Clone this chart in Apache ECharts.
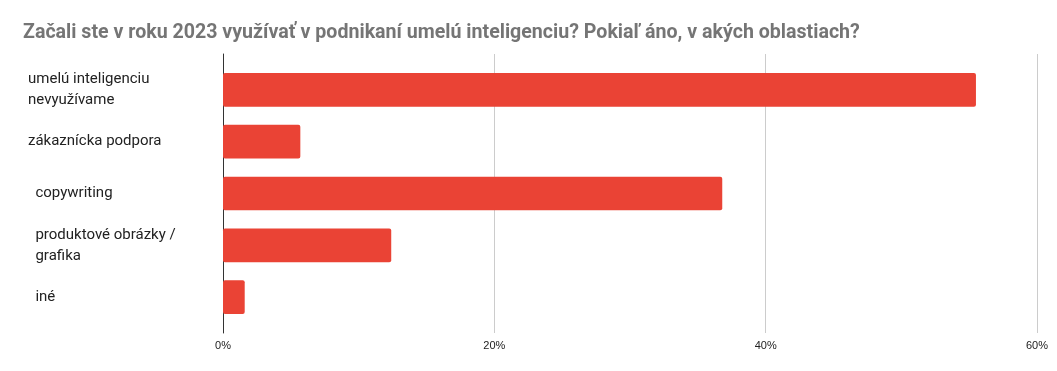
<!DOCTYPE html>
<html>
<head>
<meta charset="utf-8">
<script src="https://cdn.jsdelivr.net/npm/echarts@6/dist/echarts.min.js"></script>
<style>
html,body{margin:0;padding:0;background:#fff;}
#chart{width:1057px;height:371px;}
</style>
</head>
<body>
<div id="chart"></div>
<script>
const title = "Začali ste v roku 2023 využívať v podnikaní umelú inteligenciu? Pokiaľ áno, v akých oblastiach?";
const categories = ["umelú inteligenciu\nnevyužívame", "zákaznícka podpora", "  copywriting", "  produktové obrázky /\n  grafika", "  iné"];
const values = [55.5, 5.7, 36.8, 12.4, 1.6];
const tickMin = 0, tickMax = 60, tickStep = 20;

const chart = echarts.init(document.getElementById('chart'), null, {renderer: 'canvas'});
chart.setOption({
  animation: false,
  backgroundColor: '#ffffff',
  title: {
    text: title,
    left: 18,
    top: 18,
    textStyle: {fontFamily: 'Roboto', fontWeight: 'bold', fontSize: 19.6, color: '#757575'}
  },
  grid: [
    {left: 223, right: 20, top: 54, bottom: 38},
    {left: 223, right: 20, top: 64, bottom: 48}
  ],
  xAxis: [
    {
      gridIndex: 0, type: 'value', min: tickMin, max: tickMax, interval: tickStep,
      axisLine: {show: false}, axisTick: {show: false},
      splitLine: {show: true, lineStyle: {color: '#cccccc', width: 1}},
      axisLabel: {formatter: '{value}%', fontFamily: 'Liberation Sans', fontSize: 11, color: '#222222', margin: 7}
    },
    {
      gridIndex: 1, type: 'value', min: tickMin, max: tickMax, interval: tickStep,
      show: false
    }
  ],
  yAxis: [
    {
      gridIndex: 0, type: 'category', data: categories, inverse: true,
      axisLine: {show: true, lineStyle: {color: '#333333', width: 1}},
      axisTick: {show: false}, axisLabel: {show: false}, splitLine: {show: false}
    },
    {
      gridIndex: 1, type: 'category', data: categories, inverse: true,
      axisLine: {show: false}, axisTick: {show: false}, splitLine: {show: false},
      axisLabel: {
        interval: 0, align: 'left', margin: 195,
        fontFamily: 'Roboto', fontSize: 15, color: '#222222', lineHeight: 21
      }
    }
  ],
  series: [{
    type: 'bar',
    xAxisIndex: 1, yAxisIndex: 1,
    data: values,
    barCategoryGap: '35%',
    itemStyle: {color: '#EA4335', borderRadius: 2}
  }]
});
</script>
</body>
</html>
